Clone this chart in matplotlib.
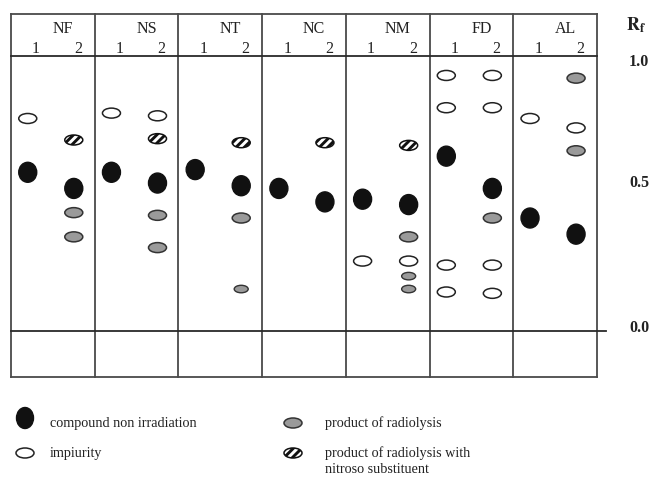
import matplotlib
matplotlib.use("Agg")
import matplotlib.pyplot as plt
from matplotlib.patches import Ellipse

plt.rcParams['font.family'] = ['Liberation Serif', 'DejaVu Serif']
plt.rcParams['mathtext.fontset'] = 'stix'
plt.rcParams['hatch.linewidth'] = 2.1

# ---- data ----
compounds = ["NF", "NS", "NT", "NC", "NM", "FD", "AL"]
lane_labels = ["1", "2"]
# spots: (compound index, lane index 0/1, Rf)
black_spots = [(0, 0, 0.59), (0, 1, 0.53), (1, 0, 0.59), (1, 1, 0.55),
               (2, 0, 0.60), (2, 1, 0.54), (3, 0, 0.53), (3, 1, 0.48),
               (4, 0, 0.49), (4, 1, 0.47), (5, 0, 0.65), (5, 1, 0.53),
               (6, 0, 0.42), (6, 1, 0.36)]
open_spots = [(0, 0, 0.79), (1, 0, 0.81), (1, 1, 0.80),
              (4, 0, 0.26), (4, 1, 0.26),
              (5, 0, 0.95), (5, 0, 0.83), (5, 0, 0.245), (5, 0, 0.145),
              (5, 1, 0.95), (5, 1, 0.83), (5, 1, 0.245), (5, 1, 0.14),
              (6, 0, 0.79), (6, 1, 0.755)]
gray_spots = [(0, 1, 0.44), (0, 1, 0.35), (1, 1, 0.43), (1, 1, 0.31),
              (2, 1, 0.42), (4, 1, 0.35), (5, 1, 0.42),
              (6, 1, 0.94), (6, 1, 0.67)]
small_gray_spots = [(2, 1, 0.156), (4, 1, 0.204), (4, 1, 0.156)]
hatched_spots = [(0, 1, 0.71), (1, 1, 0.715), (2, 1, 0.70), (3, 1, 0.70),
                 (4, 1, 0.69)]
rf_ticks = [0.01, 0.55, 1.0]
rf_tick_labels = ["0.0", "0.5", "1.0"]
legend_labels = ["compound non irradiation", "impiurity",
                 "product of radiolysis",
                 "product of radiolysis with\nnitroso substituent"]

# ---- layout ----
W, H = 652, 479
fig = plt.figure(figsize=(W / 100, H / 100), dpi=100)
left_px, right_px, top_px, bot_px = 11, 597, 14, 377
ax = fig.add_axes([left_px / W, 1 - bot_px / H, (right_px - left_px) / W,
                   (bot_px - top_px) / H])
px_per_rf = 269.0
base_px = 331
ymin = -(bot_px - base_px) / px_per_rf
ymax = (base_px - top_px) / px_per_rf
ncol = len(compounds)
ax.set_xlim(0, ncol)
ax.set_ylim(ymin, ymax)
ax.axis('off')
px_per_x = (right_px - left_px) / ncol

lc = '#4a4a4a'
lw = 1.3
header_y = (base_px - 56) / px_per_rf
# frame
for xv in range(ncol + 1):
    ax.plot([xv, xv], [ymin, ymax], color=lc, lw=lw, clip_on=False,
            solid_capstyle='projecting')
ax.plot([0, ncol], [ymax, ymax], color=lc, lw=lw, clip_on=False)
ax.plot([0, ncol], [ymin, ymin], color=lc, lw=lw, clip_on=False)
ax.plot([0, ncol], [header_y, header_y], color='#2a2a2a', lw=lw, clip_on=False)
ax.plot([0, (606 - left_px) / px_per_x], [0, 0], color='#2a2a2a', lw=lw,
        clip_on=False)

# headers
for i, name in enumerate(compounds):
    ax.text(i + 0.62, (base_px - 29) / px_per_rf, name, ha='center',
            va='center', fontsize=11.5, color='#222222')
    ax.text(i + 0.30, (base_px - 49) / px_per_rf, lane_labels[0],
            ha='center', va='center', fontsize=11.5, color='#222222')
    ax.text(i + 0.80, (base_px - 49) / px_per_rf, lane_labels[1],
            ha='center', va='center', fontsize=11.5, color='#222222')

# Rf axis labels
rf_x = (639 - left_px) / px_per_x
for t, lab in zip(rf_ticks, rf_tick_labels):
    ax.text(rf_x, t, lab, ha='center', va='center', fontsize=11.5,
            fontweight='bold', clip_on=False, color='#222222')
ax.text(rf_x - 0.03, (base_px - 25) / px_per_rf, r'$\mathbf{R}_\mathbf{f}$',
        ha='center', va='center', fontsize=13, clip_on=False, color='#222222')

lane_off = [0.2, 0.75]


def draw(spots, wpx, hpx, face, edge, hatch=None, elw=1.0):
    for ci, li, rf in spots:
        e = Ellipse((ci + lane_off[li], rf), wpx / px_per_x, hpx / px_per_rf,
                    facecolor=face, edgecolor=edge, lw=elw, hatch=hatch,
                    clip_on=False)
        ax.add_patch(e)


draw(black_spots, 18, 20, '#111111', '#111111')
draw(open_spots, 18, 10, 'white', '#222222', elw=1.1)
draw(gray_spots, 18, 10, '#9a9a9a', '#333333', elw=1.1)
draw(small_gray_spots, 14, 7.5, '#9a9a9a', '#333333', elw=1.0)
draw(hatched_spots, 18, 10, 'white', '#111111', hatch='////', elw=1.1)

# ---- legend ----
lax = fig.add_axes([0, 0, 1, 1])
lax.set_xlim(0, W)
lax.set_ylim(H, 0)
lax.axis('off')
lax.add_patch(Ellipse((25, 418), 17, 21, facecolor='#111111', edgecolor='#111111'))
lax.add_patch(Ellipse((25, 453), 18, 10, facecolor='white', edgecolor='#222222', lw=1.1))
lax.add_patch(Ellipse((293, 423), 18, 10, facecolor='#9a9a9a', edgecolor='#333333', lw=1.1))
lax.add_patch(Ellipse((293, 453), 18, 10, facecolor='white', edgecolor='#111111',
                      hatch='////', lw=1.1))
fs = 10.2
lax.text(50, 423, legend_labels[0], va='center', ha='left', fontsize=fs, color='#222222')
lax.text(50, 453, legend_labels[1], va='center', ha='left', fontsize=fs, color='#222222')
lax.text(325, 423, legend_labels[2], va='center', ha='left', fontsize=fs, color='#222222')
lax.text(325, 446, legend_labels[3], va='top', ha='left', fontsize=fs,
         color='#222222', linespacing=1.3)

fig.savefig("out.png", dpi=100)
